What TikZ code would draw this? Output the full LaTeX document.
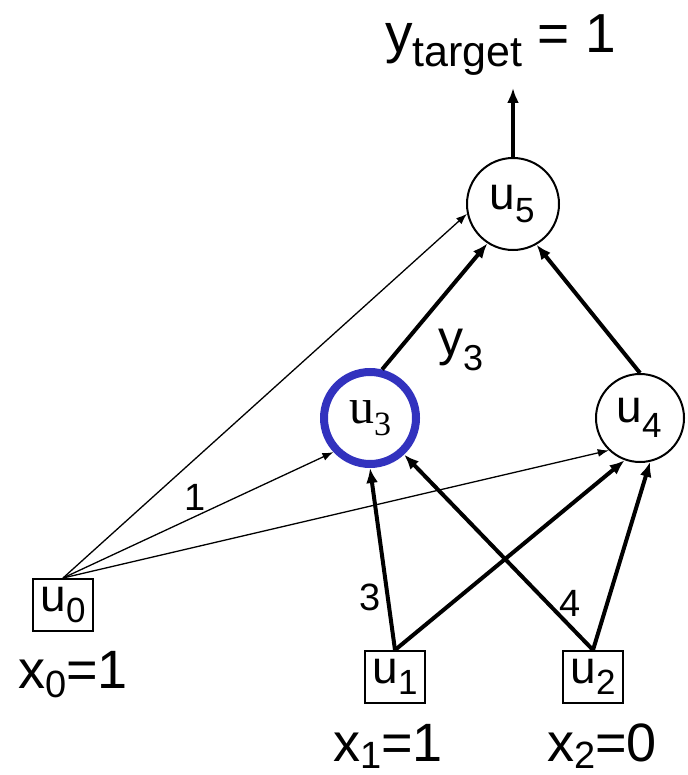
\documentclass[tikz,border=0pt]{standalone}
\usepackage{fontspec}
\setmainfont{Liberation Sans}
\newfontfamily\serifu{Liberation Serif}
\usetikzlibrary{arrows.meta}
\definecolor{ublue}{RGB}{50,50,190}
\newcommand\lsub[3]{\raisebox{-#1}{\fontsize{#2}{#2}\selectfont #3}}
\begin{document}
\begin{tikzpicture}[x=1pt,y=-1pt,
  circ/.style={circle,draw,line width=2pt,inner sep=0pt,font=\fontsize{46}{46}\selectfont},
  ubox/.style={rectangle,draw,line width=2pt,inner sep=0pt,minimum width=60pt,minimum height=52pt,font=\fontsize{46}{46}\selectfont},
  thick arrow/.style={line width=4pt,-{Latex[length=15pt,width=12pt]}},
  thin arrow/.style={line width=1.3pt,-{Latex[length=11pt,width=8pt]}},
  lbl/.style={inner sep=0pt},
  wlbl/.style={inner sep=0pt,font=\fontsize{38}{38}\selectfont}]
\useasboundingbox (0,0) rectangle (687,775);
% nodes
\node[circ,minimum size=92pt] (u5) at (513,204) {\hspace*{-2pt}u\lsub{13pt}{35pt}{5}};
\node[circ,draw=ublue,line width=8pt,minimum size=92pt,font=\serifu\fontsize{50}{50}\selectfont] (u3) at (370,418) {u\lsub{12pt}{34pt}{3}};
\node[circ,minimum size=88pt] (u4) at (640,418) {\hspace*{-2pt}u\lsub{15pt}{35pt}{4}};
\node[ubox] (u0) at (63,605) {u\lsub{11pt}{35pt}{0}};
\node[ubox] (u1) at (395,677) {u\lsub{11pt}{35pt}{1}};
\node[ubox] (u2) at (593,677) {u\lsub{11pt}{35pt}{2}};
\coordinate (out) at (513,88);
% labels
\node[lbl,anchor=base west,font=\fontsize{55}{55}\selectfont] (yt) at (385,53) {y\lsub{14pt}{43pt}{target} = 1};
\node[lbl,anchor=base west,font=\fontsize{54}{54}\selectfont] (x0) at (18,688) {x\lsub{9pt}{38pt}{0}=1};
\node[lbl,anchor=base west,font=\fontsize{54}{54}\selectfont] (x1) at (333,761) {x\lsub{7pt}{38pt}{1}=1};
\node[lbl,anchor=base west,font=\fontsize{54}{54}\selectfont] (x2) at (547,761) {x\lsub{7pt}{38pt}{2}=0};
\node[lbl,anchor=base west,font=\fontsize{50}{50}\selectfont] (y3) at (438,355) {y\lsub{15pt}{36pt}{3}};
\node[wlbl] (w1) at (195,497) {1};
\node[wlbl] (w3) at (370,597) {3};
\node[wlbl] (w4) at (570,603) {4};
% connectors
\draw[thick arrow] (u5.north) -- (out);
\draw[thin arrow] (u0.north) -- (u5.192);
\draw[thin arrow] (u0.north) -- (u3.223);
\draw[thin arrow] (u0.north) -- (u4.226);
\draw[thick arrow] (u3.76) -- (u5.237);
\draw[thick arrow] (u4.north) -- (u5.300);
\draw[thick arrow] (u1.north) -- (u3.270);
\draw[thick arrow] (u1.north) -- (u4.250);
\draw[thick arrow] (u2.north) -- (u3.313);
\draw[thick arrow] (u2.north) -- (u4.283);
\end{tikzpicture}
\end{document}
